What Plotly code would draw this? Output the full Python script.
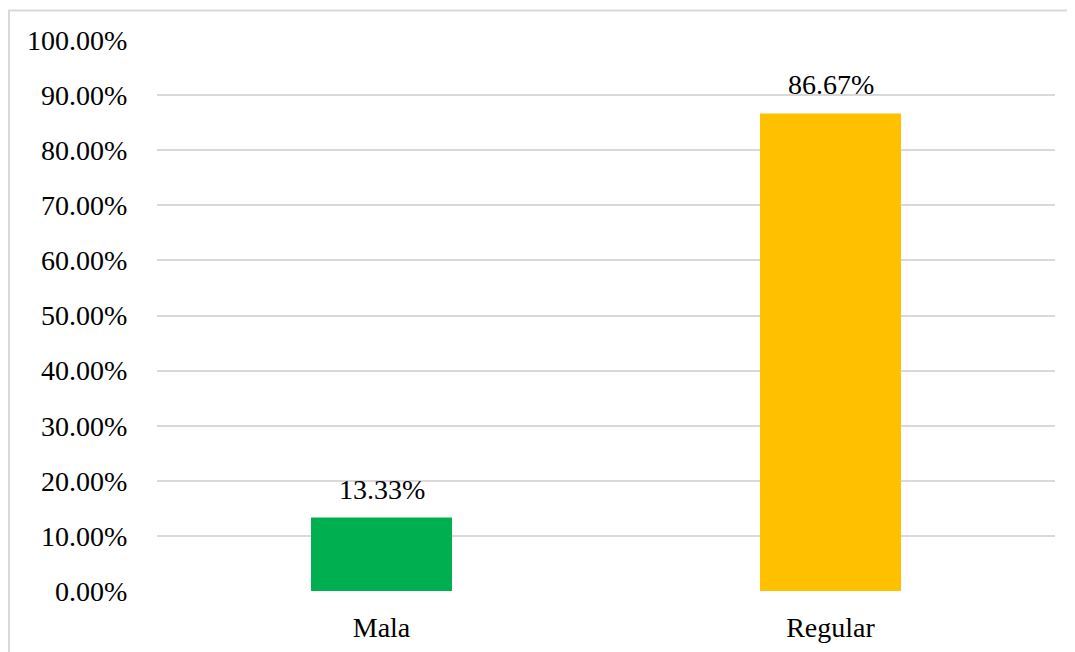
import plotly.graph_objects as go

categories = ["Mala", "Regular"]
values = [0.1333, 0.8667]
colors = ["#00B050", "#FFC000"]
value_labels = ["13.33%", "86.67%"]

FONT = "'Liberation Serif', 'Times New Roman', Times, serif"
FS = 28
W, H = 1067, 644          # page body adds an 8px offset
L, R, T, B = 149, 20, 32, 61
pw, ph = W - L - R, H - T - B

fig = go.Figure(go.Bar(x=categories, y=values, marker=dict(color=colors, line=dict(width=0)),
                       showlegend=False, hoverinfo="skip"))

for c, v, lab in zip(categories, values, value_labels):
    fig.add_annotation(x=c, y=v, text=lab, showarrow=False, yanchor="bottom",
                       yshift=11, font=dict(family=FONT, size=FS, color="#000000"))

# outer chart border (extends past right/bottom edges)
fig.add_shape(type="rect", xref="paper", yref="paper",
              x0=(1 - L) / pw, x1=(W + 20 - L) / pw,
              y0=-(H + 20 - (H - B)) / ph, y1=((H - B) - 2.5) / ph,
              line=dict(color="#D9D9D9", width=2), fillcolor="rgba(0,0,0,0)", layer="below")

fig.update_layout(
    width=W, height=H,
    margin=dict(l=L, r=R, t=T, b=B, pad=0, autoexpand=False),
    paper_bgcolor="white", plot_bgcolor="white",
    bargap=0.686,
    font=dict(family=FONT, size=FS, color="#000000"),
    xaxis=dict(showgrid=False, showline=False, zeroline=False, ticks="outside", automargin=False,
               ticklen=11, tickcolor="rgba(0,0,0,0)", tickfont=dict(family=FONT, size=FS)),
    yaxis=dict(range=[0, 1], dtick=0.1, tickformat=".2%", showgrid=True, automargin=False,
               gridcolor="#D9D9D9", gridwidth=1.5, zeroline=False, showline=False,
               ticks="outside", ticklen=23, tickcolor="rgba(0,0,0,0)",
               tickfont=dict(family=FONT, size=FS)),
)

fig.write_html("out.html")
